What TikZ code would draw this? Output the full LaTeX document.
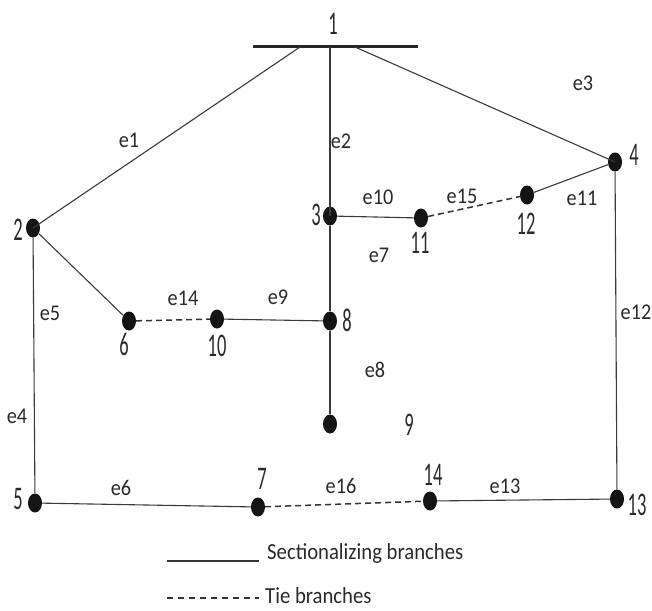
\documentclass[tikz,border=0pt]{standalone}
\usepackage{fontspec}
\setmainfont{Carlito}[FakeStretch=0.9]
\newfontfamily\numfont{Carlito}[FakeStretch=0.56]
\usetikzlibrary{shapes.geometric}
\definecolor{wire}{HTML}{3A3A3A}
\definecolor{ink}{HTML}{2A2A2A}
\tikzset{
  bus/.style={draw=black!85, line width=3pt},
  vtx/.style={ellipse, fill=black!92, inner sep=0pt, minimum width=14pt, minimum height=19pt},
  sect/.style={draw=wire, line width=1.1pt},
  tie/.style={draw=black!80, line width=1.5pt, dash pattern=on 6pt off 4pt},
  elab/.style={text=ink, font=\fontsize{22.5}{24}\selectfont, inner sep=0pt},
  nlab/.style={text=ink, font=\numfont\fontsize{33}{35}\selectfont, inner sep=0pt},
  legtext/.style={text=ink, font=\fontsize{23}{25}\selectfont, inner sep=0pt, anchor=west}
}
\begin{document}
\begin{tikzpicture}[x=1pt, y=-1pt]
\useasboundingbox (0,0) rectangle (652,610);

% substation bus
\coordinate (busL) at (253,47);
\coordinate (busR) at (418,47);
\draw[bus] (busL) -- (busR);
\coordinate (b1) at (300,47);
\coordinate (b2) at (330,47);
\coordinate (b3) at (355,47);
\node[nlab] (l1) at (333,24) {1};

% vertices
\node[vtx] (n2) at (33,228) {};
\node[vtx] (n3) at (330,216) {};
\node[vtx] (n4) at (615,162) {};
\node[vtx] (n5) at (35,503) {};
\node[vtx] (n6) at (129,321) {};
\node[vtx] (n7) at (258,507) {};
\node[vtx] (n8) at (330,321) {};
\node[vtx] (n9) at (330,424) {};
\node[vtx] (n10) at (217,319) {};
\node[vtx] (n11) at (421,218) {};
\node[vtx] (n12) at (527,195) {};
\node[vtx] (n13) at (617,499) {};
\node[vtx] (n14) at (430,501) {};

% vertex numbers
\node[nlab] (l2) at (18,230) {2};
\node[nlab] (l3) at (316,215) {3};
\node[nlab] (l4) at (634,155) {4};
\node[nlab] (l5) at (18,499) {5};
\node[nlab] (l6) at (124,344) {6};
\node[nlab] (l7) at (262,479) {7};
\node[nlab] (l8) at (347,320) {8};
\node[nlab] (l9) at (409,425) {9};
\node[nlab] (l10) at (217,346) {10};
\node[nlab] (l11) at (420,243) {11};
\node[nlab] (l12) at (526,224) {12};
\node[nlab] (l13) at (637,505) {13};
\node[nlab] (l14) at (433,475) {14};

% sectionalizing branches
\draw[sect] (b1) -- (n2.center);
\draw[sect] (b2) -- (n3.center);
\draw[sect] (b3) -- (n4.center);
\draw[sect] (n3) -- (n11);
\draw[sect] (n12) -- (n4);
\draw[sect] (n3) -- (n8);
\draw[sect] (n8) -- (n9);
\draw[sect] (n2) -- (n6);
\draw[sect] (n10) -- (n8);
\draw[sect] (n2) -- (n5);
\draw[sect] (n5) -- (n7);
\draw[sect] (n14) -- (n13);
\draw[sect] (n4) -- (n13);

% tie branches
\draw[tie] (n11) -- (n12);
\draw[tie] (n6) -- (n10);
\draw[tie] (n7) -- (n14);

% branch names
\node[elab] (e1) at (129,140) {e1};
\node[elab] (e2) at (341,141) {e2};
\node[elab] (e3) at (583,83) {e3};
\node[elab] (e4) at (17,416) {e4};
\node[elab] (e5) at (50,313) {e5};
\node[elab] (e6) at (121,488) {e6};
\node[elab] (e7) at (379,255) {e7};
\node[elab] (e8) at (375,370) {e8};
\node[elab] (e9) at (278,297) {e9};
\node[elab] (e10) at (378,197) {e10};
\node[elab] (e11) at (582,198) {e11};
\node[elab] (e12) at (636,312) {e12};
\node[elab] (e13) at (505,486) {e13};
\node[elab] (e14) at (183,298) {e14};
\node[elab] (e15) at (462,196) {e15};
\node[elab] (e16) at (341,486) {e16};

% legend
\coordinate (s1) at (167,561);
\coordinate (s2) at (259,561);
\draw[draw=black!80, line width=1.2pt] (s1) -- (s2);
\node[legtext] (st) at (267,553) {Sectionalizing branches};
\coordinate (t1) at (167,598);
\coordinate (t2) at (259,598);
\draw[draw=black!80, line width=1.2pt, dash pattern=on 6pt off 5pt] (t1) -- (t2);
\node[legtext] (tt) at (265,596) {Tie branches};
\end{tikzpicture}
\end{document}
